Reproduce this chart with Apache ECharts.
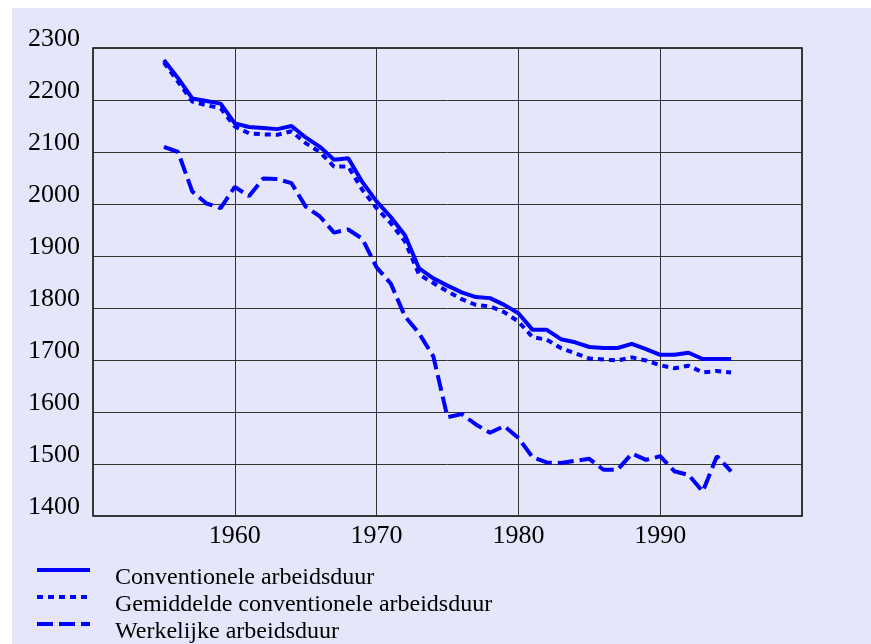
<!DOCTYPE html>
<html>
<head>
<meta charset="utf-8">
<script src="https://cdn.jsdelivr.net/npm/echarts@6/dist/echarts.min.js"></script>
<style>
  html, body { margin: 0; padding: 0; background: #fff; }
  #chart { width: 871px; height: 644px; }
</style>
</head>
<body>
<div id="chart"></div>
<script>
// jaren 1955 - 1995
var jaren = [];
for (var j = 1955; j <= 1995; j++) jaren.push(j);

var conventioneel = [2277, 2242, 2203, 2198, 2193, 2155, 2148, 2146, 2144, 2150,
  2128, 2110, 2085, 2088, 2042, 2005, 1975, 1940, 1876, 1857,
  1843, 1830, 1821, 1819, 1806, 1790, 1758, 1758, 1740, 1734,
  1725, 1723, 1723, 1731, 1721, 1710, 1710, 1714, 1702, 1702, 1702];

var gemiddeld = [2272, 2235, 2197, 2190, 2184, 2149, 2136, 2134, 2133, 2140,
  2117, 2100, 2072, 2072, 2027, 1992, 1963, 1928, 1864, 1848,
  1832, 1817, 1806, 1803, 1792, 1774, 1744, 1739, 1723, 1713,
  1703, 1701, 1699, 1705, 1699, 1690, 1684, 1689, 1676, 1679, 1676];

var werkelijk = [2110, 2100, 2024, 2001, 1992, 2033, 2015, 2049, 2048, 2040,
  1995, 1976, 1945, 1951, 1933, 1878, 1847, 1784, 1751, 1707,
  1590, 1596, 1576, 1560, 1573, 1550, 1513, 1503, 1502, 1506,
  1510, 1489, 1489, 1520, 1508, 1515, 1486, 1479, 1447, 1515, 1486];

var namen = ['Conventionele arbeidsduur', 'Gemiddelde conventionele arbeidsduur', 'Werkelijke arbeidsduur'];
var streep = ['solid', [6, 5], [16, 6]];

function paren(waarden) {
  return jaren.map(function (jr, i) { return [jr, waarden[i]]; });
}

var font = '"Liberation Serif", "Times New Roman", serif';

var chart = echarts.init(document.getElementById('chart'));

function lijn(naam, waarden, type) {
  return {
    name: naam,
    type: 'line',
    data: paren(waarden),
    symbol: 'none',
    lineStyle: { color: '#0000ff', width: 4, type: type },
    itemStyle: { color: '#0000ff' },
    animation: false
  };
}

chart.setOption({
  backgroundColor: '#fff',
  animation: false,
  graphic: [{
    type: 'rect',
    left: 12, top: 8,
    shape: { width: 859, height: 636 },
    style: { fill: '#e6e6fa' },
    z: -100
  }],
  grid: {
    left: 93, right: 69, top: 48, bottom: 128,
    show: true, borderColor: '#000', borderWidth: 1.5, backgroundColor: 'transparent'
  },
  legend: {
    data: namen.map(function (n, i) {
      return { name: n, lineStyle: { width: 4, type: streep[i], color: '#0000ff' } };
    }),
    orient: 'vertical',
    left: 35, top: 550,
    width: 600, height: 120,
    padding: 0,
    itemWidth: 53, itemHeight: 14, itemGap: -13,
    itemStyle: { opacity: 0 },
    formatter: '{t|{name}}',
    textStyle: {
      fontFamily: font, fontSize: 24, color: '#000', padding: [0, 0, 0, 20],
      rich: { t: { fontFamily: font, fontSize: 24, color: '#000', lineHeight: 20, padding: [16, 0, 0, 0] } }
    }
  },
  xAxis: {
    type: 'value',
    min: 1950, max: 2000, interval: 10,
    axisLine: { show: false },
    axisTick: { show: false },
    splitLine: { show: true, lineStyle: { color: '#333', width: 1 } },
    axisLabel: {
      fontFamily: font, fontSize: 26, color: '#000', margin: 7,
      formatter: function (v) { return (v === 1950 || v === 2000) ? '' : String(v); }
    }
  },
  yAxis: {
    type: 'value',
    min: 1400, max: 2300, interval: 100,
    axisLine: { show: false },
    axisTick: { show: false },
    splitLine: { show: true, lineStyle: { color: '#333', width: 1 } },
    axisLabel: {
      fontFamily: font, fontSize: 26, color: '#000', margin: 13,
      verticalAlign: 'bottom', lineHeight: 18,
      formatter: function (v) { return String(v); }
    }
  },
  series: [
    lijn(namen[0], conventioneel, streep[0]),
    lijn(namen[1], gemiddeld, streep[1]),
    lijn(namen[2], werkelijk, streep[2])
  ]
});
</script>
</body>
</html>
